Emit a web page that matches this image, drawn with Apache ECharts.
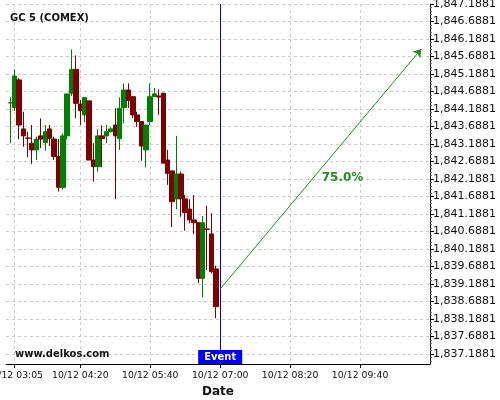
<!DOCTYPE html>
<html>
<head>
<meta charset="utf-8">
<script src="https://cdn.jsdelivr.net/npm/echarts@6/dist/echarts.min.js"></script>
<style>
  html, body { margin: 0; padding: 0; background: #fff; }
  #chart { width: 500px; height: 400px; }
</style>
</head>
<body>
<div id="chart"></div>
<script>
// 5-minute candles, 10/12 03:00 .. 06:55
var candleTimes = [
  "03:00", "03:05", "03:10", "03:15", "03:20", "03:25", "03:30", "03:35", "03:40", "03:45", "03:50", "03:55",
  "04:00", "04:05", "04:10", "04:15", "04:20", "04:25", "04:30", "04:35", "04:40", "04:45", "04:50", "04:55",
  "05:00", "05:05", "05:10", "05:15", "05:20", "05:25", "05:30", "05:35", "05:40", "05:45", "05:50", "05:55",
  "06:00", "06:05", "06:10", "06:15", "06:20", "06:25", "06:30", "06:35", "06:40", "06:45", "06:50", "06:55"
];
var openVals = [
  1844.36, 1844.23, 1845.02, 1843.62, 1843.36, 1843.21, 1843.02, 1843.42, 1843.23, 1843.62, 1843.33, 1842.83,
  1841.95, 1843.42, 1844.64, 1845.32, 1844.33, 1844.02, 1844.42, 1842.73, 1842.54, 1843.42, 1843.42, 1843.54,
  1843.73, 1843.34, 1844.23, 1844.73, 1844.54, 1844.02, 1843.83, 1843.02, 1843.83, 1844.54, 1844.56, 1844.64,
  1842.73, 1842.42, 1841.62, 1842.33, 1841.62, 1841.33, 1841.02, 1840.94, 1839.35, 1840.76, 1840.62, 1839.62
];
var closeVals = [
  1844.37, 1845.13, 1843.73, 1843.42, 1843.35, 1843.02, 1843.33, 1843.33, 1843.54, 1843.35, 1842.83, 1841.95,
  1843.42, 1844.62, 1845.32, 1844.35, 1844.14, 1844.52, 1842.73, 1842.54, 1843.42, 1843.34, 1843.54, 1843.62,
  1843.42, 1844.21, 1844.73, 1844.43, 1844.02, 1843.83, 1843.13, 1843.73, 1844.54, 1844.62, 1844.53, 1842.64,
  1842.35, 1841.54, 1842.33, 1841.62, 1841.23, 1841.02, 1840.94, 1839.35, 1840.94, 1840.75, 1839.54, 1838.54
];
var lowVals = [
  1843.21, 1844.13, 1843.32, 1843.11, 1842.81, 1842.62, 1842.73, 1843.07, 1843.00, 1843.13, 1842.73, 1841.83,
  1841.89, 1843.32, 1844.56, 1843.92, 1843.73, 1843.81, 1842.73, 1842.11, 1842.40, 1842.52, 1843.21, 1843.52,
  1841.61, 1843.02, 1843.78, 1844.22, 1843.93, 1843.68, 1842.71, 1842.52, 1843.73, 1844.54, 1844.02, 1842.64,
  1842.02, 1840.81, 1841.32, 1841.11, 1840.71, 1840.92, 1840.61, 1839.21, 1838.81, 1839.59, 1839.49, 1838.21
];
var highVals = [
  1844.52, 1845.32, 1845.07, 1844.11, 1843.54, 1843.73, 1843.40, 1843.92, 1843.73, 1843.73, 1843.40, 1843.33,
  1843.49, 1844.62, 1845.89, 1845.72, 1844.45, 1844.52, 1844.42, 1843.21, 1843.61, 1843.72, 1843.73, 1843.67,
  1844.21, 1844.52, 1844.92, 1844.92, 1844.54, 1844.11, 1843.83, 1843.73, 1844.92, 1844.79, 1844.75, 1844.64,
  1843.02, 1842.42, 1843.42, 1842.40, 1841.73, 1841.61, 1841.73, 1840.94, 1841.13, 1841.42, 1841.21, 1839.71
];

// x tick labels and y tick values as printed on the axes
var xTickLabels = ["10/12 03:05", "10/12 04:20", "10/12 05:40", "10/12 07:00", "10/12 08:20", "10/12 09:40"];
var yTickVals = [
  1837.1881, 1837.6881, 1838.1881, 1838.6881, 1839.1881, 1839.6881, 1840.1881,
  1840.6881, 1841.1881, 1841.6881, 1842.1881, 1842.6881, 1843.1881, 1843.6881,
  1844.1881, 1844.6881, 1845.1881, 1845.6881, 1846.1881, 1846.6881, 1847.1881
];
var yMin = 1836.9024, yMax = 1847.1881;

// event + forecast arrow
var eventTime = "10/12 07:00";
var arrowStart = ["10/12 07:00", 1839.045];
var arrowEnd = ["10/12 10:50", 1845.902];
var arrowLabelPos = ["10/12 09:20", 1842.22];
var arrowLabel = "75.0%";

// axis slots every 5 min, 02:55 .. 11:00
var slots = [];
for (var m = 2 * 60 + 55; m <= 11 * 60; m += 5) {
  var hh = Math.floor(m / 60), mm = m % 60;
  slots.push("10/12 " + (hh < 10 ? "0" : "") + hh + ":" + (mm < 10 ? "0" : "") + mm);
}

// minor y ticks: 5 per major step
var yMinorVals = [];
yTickVals.forEach(function (v, i) {
  for (var k = 1; k < 5; k++) {
    if (v + k * 0.1 < yMax) yMinorVals.push(v + k * 0.1);
  }
  if (i === 0) {
    for (var j = 1; j < 3; j++) yMinorVals.push(v - j * 0.1);
  }
});

var candles = candleTimes.map(function (t, i) {
  return ["10/12 " + t, openVals[i], closeVals[i], lowVals[i], highVals[i]];
});

function isTick(idx, val) {
  return xTickLabels.indexOf(val) >= 0;
}

function fmtPrice(v) {
  return Number(v).toLocaleString("en-US", { minimumFractionDigits: 4, maximumFractionDigits: 4 });
}

var FONT = "DejaVu Sans";
var chart = echarts.init(document.getElementById("chart"));

var option = {
  animation: false,
  backgroundColor: "#fff",
  title: {
    text: "GC 5 (COMEX)",
    left: 5,
    top: 8,
    textStyle: { fontFamily: FONT, fontSize: 10, fontWeight: "bold", color: "#111" }
  },
  graphic: [
    {
      type: "text",
      left: 15,
      top: 349,
      z: 100,
      style: { text: "www.delkos.com", font: "bold 10px " + FONT, fill: "#111" }
    }
  ],
  grid: { left: 6, right: 70, top: 4, bottom: 36, outerBoundsMode: "none", containLabel: false },
  xAxis: {
    type: "category",
    data: slots,
    boundaryGap: false,
    name: "Date",
    nameLocation: "middle",
    nameGap: 22,
    nameTextStyle: { fontFamily: FONT, fontSize: 12, fontWeight: "bold", color: "#111" },
    axisLine: { lineStyle: { color: "#000", width: 1 } },
    axisTick: { show: true, interval: isTick, length: 4, lineStyle: { color: "#000" } },
    axisLabel: {
      interval: isTick,
      hideOverlap: false,
      showMinLabel: true,
      fontFamily: FONT,
      fontSize: 9.3,
      color: "#111",
      margin: 7,
      formatter: function (v) { return v; }
    },
    splitLine: { show: true, interval: isTick, lineStyle: { color: "#ccc", type: [3, 3] } }
  },
  yAxis: [
    {
      type: "value",
      position: "right",
      min: yMin,
      max: yMax,
      scale: true,
      axisLine: { show: true, lineStyle: { color: "#000" } },
      axisTick: { show: true, length: 4, customValues: yTickVals, lineStyle: { color: "#000" } },
      minorTick: { show: false },
      axisLabel: {
        customValues: yTickVals,
        hideOverlap: false,
        fontFamily: FONT,
        fontSize: 11,
        color: "#111",
        margin: 3,
        formatter: fmtPrice
      },
      splitLine: { show: true, lineStyle: { color: "#ccc", type: [3, 3] } }
    },
    {
      type: "value",
      position: "right",
      min: yMin,
      max: yMax,
      scale: true,
      axisLine: { show: false },
      axisTick: { show: true, length: 2, customValues: yMinorVals, lineStyle: { color: "#666" } },
      axisLabel: { show: false, customValues: yMinorVals },
      splitLine: { show: false }
    }
  ],
  series: [
    {
      type: "candlestick",
      data: candles,
      encode: { x: 0, y: [1, 2, 3, 4] },
      barWidth: 5,
      itemStyle: {
        color: "#008000",
        color0: "#800000",
        borderColor: "#008000",
        borderColor0: "#800000",
        borderWidth: 1
      },
      markLine: {
        silent: true,
        symbol: ["none", "none"],
        label: { show: false },
        data: [
          { xAxis: eventTime, lineStyle: { color: "#0000ee", width: 1, type: "solid" } },
          [
            { coord: arrowStart, symbol: "none" },
            { coord: arrowEnd, symbol: "arrow", symbolSize: 8 }
          ]
        ],
        lineStyle: { color: "#1f8f1f", width: 1, type: "solid" }
      },
      markPoint: {
        silent: true,
        data: [
          {
            coord: [eventTime, yMin],
            symbol: "rect",
            symbolSize: [44, 14],
            symbolOffset: [0, -7],
            itemStyle: { color: "#0000ff" },
            label: {
              show: true,
              position: "inside",
              formatter: "Event",
              fontFamily: FONT,
              fontSize: 10,
              fontWeight: "bold",
              color: "#fff"
            }
          },
          {
            coord: arrowLabelPos,
            symbol: "circle",
            symbolSize: 0,
            label: {
              show: true,
              position: "inside",
              formatter: arrowLabel,
              fontFamily: FONT,
              fontSize: 12,
              fontWeight: "bold",
              color: "#1f8f1f"
            }
          }
        ]
      }
    }
  ]
};

chart.setOption(option);
</script>
</body>
</html>
